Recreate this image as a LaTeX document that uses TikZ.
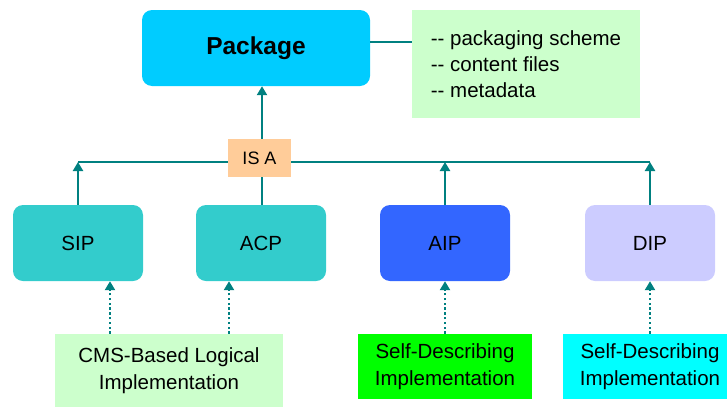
\documentclass[tikz,border=0pt]{standalone}
\usepackage{fontspec}
\setmainfont{Liberation Sans}
\usetikzlibrary{arrows.meta}
\definecolor{cPkg}{HTML}{00CCFF}
\definecolor{cNote}{HTML}{CCFFCC}
\definecolor{cIsa}{HTML}{FFCC99}
\definecolor{cTeal}{HTML}{33CCCC}
\definecolor{cAip}{HTML}{3366FF}
\definecolor{cDip}{HTML}{CCCCFF}
\definecolor{cGreen}{HTML}{00FF00}
\definecolor{cCyan}{HTML}{00FFFF}
\definecolor{cLine}{HTML}{008080}
\begin{document}
\begin{tikzpicture}[x=1pt,y=-1pt,
  txt/.style={font=\fontsize{20.5}{27}\selectfont},
  box/.style={txt, rounded corners=10pt, minimum width=130pt, minimum height=76pt, inner sep=0pt},
  impl/.style={txt, inner sep=0pt, align=center},
  link/.style={draw=cLine, line width=2.6pt},
  arr/.style={link, -{Triangle[width=10pt,length=9pt]}},
  dotarr/.style={arr, dash pattern=on 2.4pt off 2.4pt}
]
\useasboundingbox (0,0) rectangle (727,407);
% nodes
\node[fill=cPkg, rounded corners=10pt, minimum width=228pt, minimum height=76pt, inner sep=0pt,
      font=\fontsize{24.5}{28}\selectfont\bfseries] (pkg) at (256,48) {Package};
\node[fill=cNote, minimum width=228pt, minimum height=108pt, inner sep=0pt, align=left,
      font=\fontsize{20.5}{26}\selectfont] (note) at (526,64) {-{}- packaging scheme\\-{}- content files\\-{}- metadata};
\node[fill=cIsa, minimum width=63pt, minimum height=38pt, inner sep=0pt,
      font=\fontsize{18}{20}\selectfont] (isa) at (259.5,158) {IS A};
\node[box, fill=cTeal] (sip) at (78,243) {SIP};
\node[box, fill=cTeal] (acp) at (261,243) {ACP};
\node[box, fill=cAip] (aip) at (445,243) {AIP};
\node[box, fill=cDip] (dip) at (650,243) {DIP};
\node[impl, fill=cNote, minimum width=228pt, minimum height=73pt] (cms) at (169,370.5) {CMS-Based Logical\\Implementation};
\node[impl, fill=cGreen, minimum width=174pt, minimum height=65pt] (sdg) at (445,366.5) {Self-Describing\\Implementation};
\node[impl, fill=cCyan, minimum width=174pt, minimum height=65pt] (sdc) at (650,366.5) {Self-Describing\\Implementation};
% helper coordinates
\coordinate (hl) at (0,162);
\coordinate (vx) at (262,0);
\coordinate (ny) at (0,42);
\coordinate (d1) at (110,0);
\coordinate (d2) at (229,0);
% connectors
\draw[link] (pkg.east |- ny) -- (note.west |- ny);
\draw[arr] (isa.north -| vx) -- (pkg.south -| vx);
\draw[link] (acp.north -| vx) -- (isa.south -| vx);
\draw[link] (sip.north |- hl) -- (isa.west |- hl);
\draw[link] (isa.east |- hl) -- (dip.north |- hl);
\draw[arr] (sip.north) -- (sip.north |- hl);
\draw[arr] (aip.north) -- (aip.north |- hl);
\draw[arr] (dip.north) -- (dip.north |- hl);
\draw[dotarr] (cms.north -| d1) -- (sip.south -| d1);
\draw[dotarr] (cms.north -| d2) -- (acp.south -| d2);
\draw[dotarr] (sdg.north) -- (aip.south);
\draw[dotarr] (sdc.north) -- (dip.south);
\end{tikzpicture}
\end{document}
